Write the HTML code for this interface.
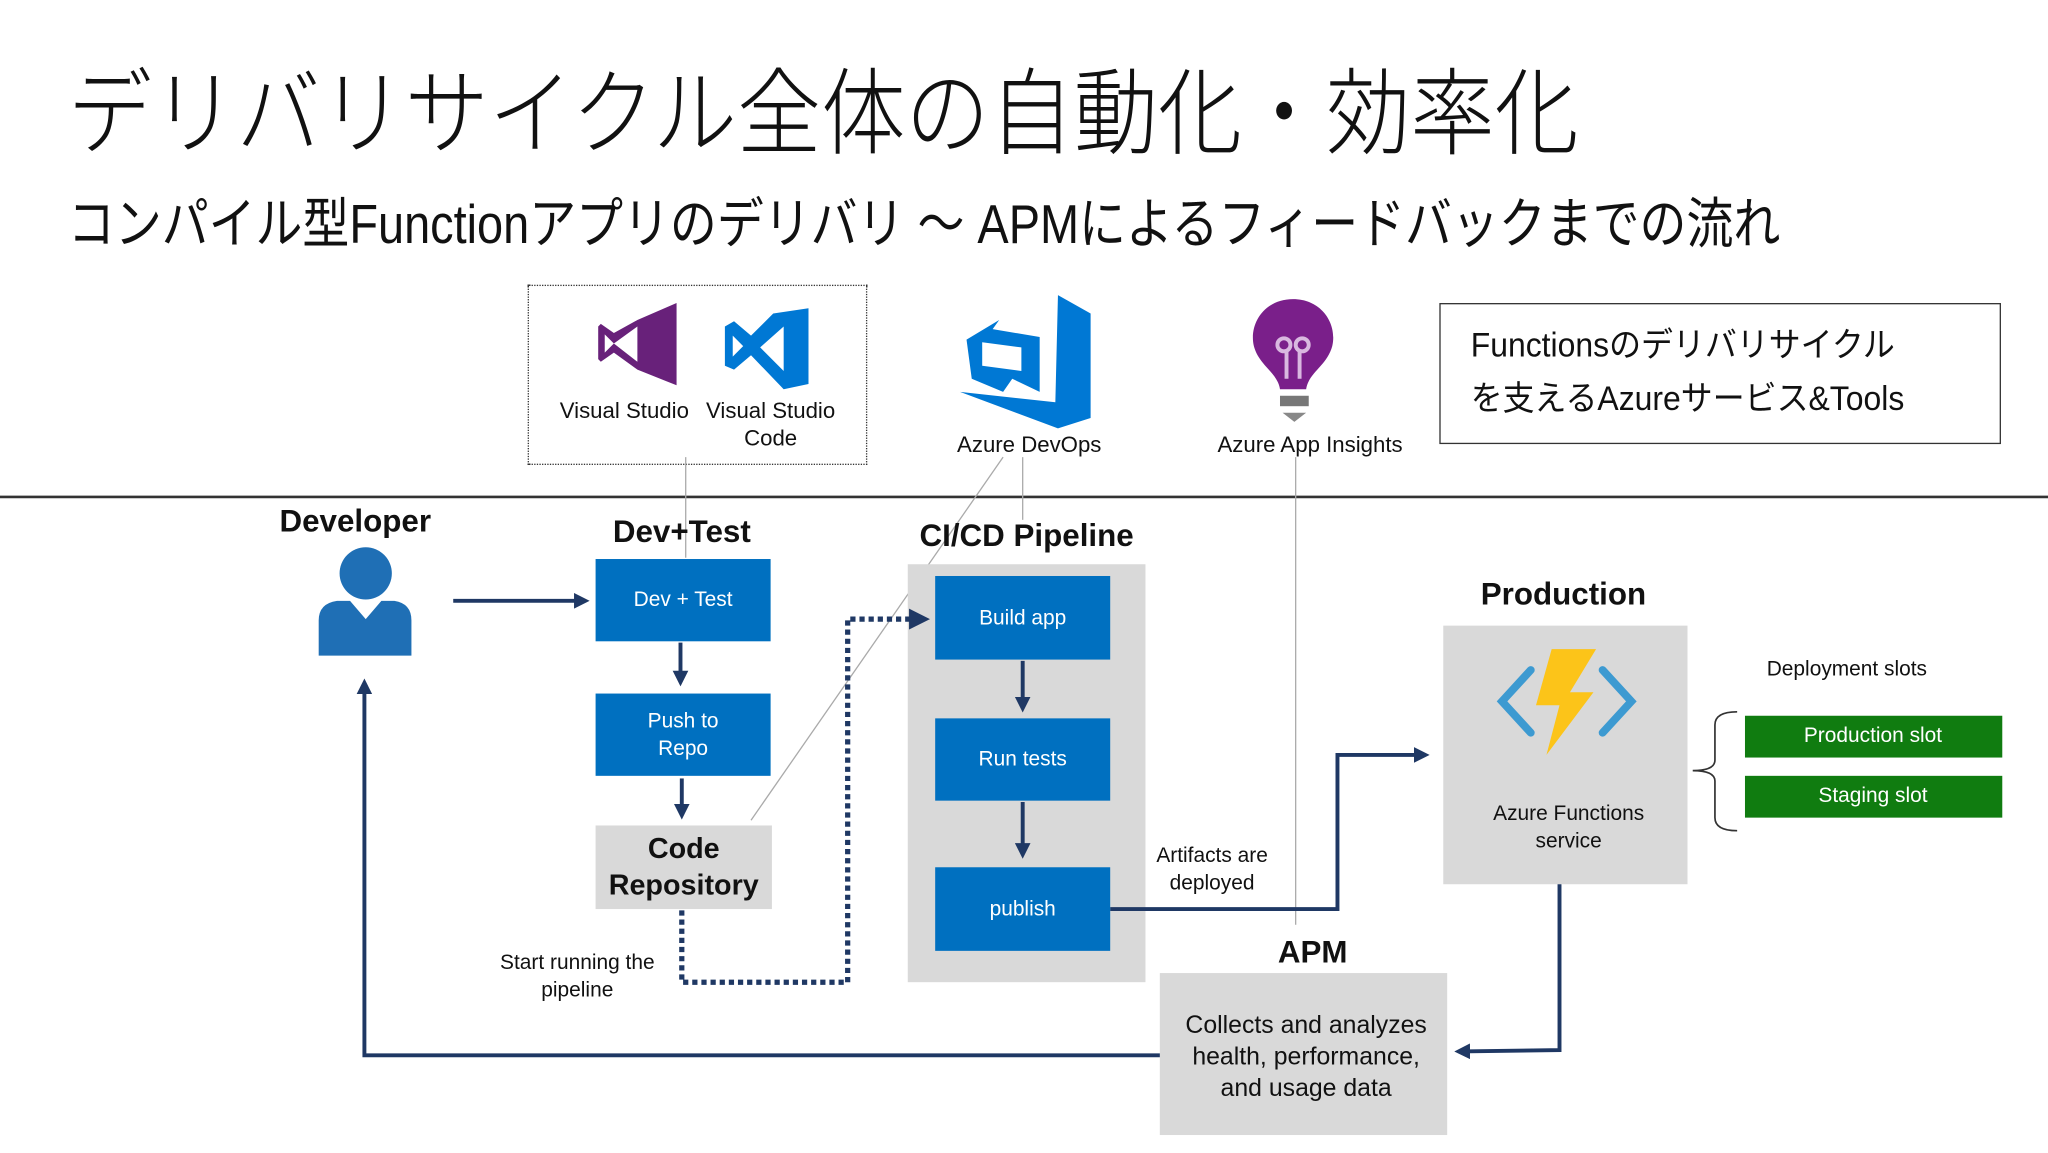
<!DOCTYPE html>
<html><head><meta charset="utf-8"><style>
html,body{margin:0;padding:0;background:#fff;overflow:hidden}
#w{width:1568px;height:883px;position:relative;transform:scale(1.30612);transform-origin:0 0;font-family:"Liberation Sans","Noto Sans CJK JP",sans-serif;color:#111}
.a{position:absolute}
.t{position:absolute;white-space:nowrap;text-align:center;transform:translateX(-50%)}
.b{position:absolute;background:#0070c0;color:#fff;font-size:16px;display:flex;align-items:center;justify-content:center;text-align:center;line-height:21px}
.h{font-weight:bold;font-size:24px}
.s{font-size:16px}
</style></head><body><div id="w">
<div class="a" style="left:52px;top:36px;font-size:72px;line-height:90px;font-family:'Noto Sans CJK JP',sans-serif;font-weight:300;white-space:nowrap;transform:scaleX(0.895);transform-origin:0 0">デリバリサイクル全体の自動化・効率化</div>
<div class="a" style="left:52px;top:142px;font-size:42px;line-height:60px;white-space:nowrap;transform:scaleX(0.855);transform-origin:0 0;font-family:'Liberation Sans','Noto Sans CJK JP',sans-serif">コンパイル型Functionアプリのデリバリ ～ APMによるフィードバックまでの流れ</div>

<div class="a" style="left:404px;top:218px;width:258px;height:136px;border:1px dotted #333"></div>
<div class="a" style="left:1102px;top:232px;width:430px;height:108px;border:1.5px solid #333;box-sizing:border-box"></div>
<div class="a" style="left:1126px;top:244px;font-size:26px;line-height:41px;white-space:nowrap;transform:scaleX(0.94);transform-origin:0 0;font-family:'Liberation Sans','Noto Sans CJK JP',sans-serif">Functionsのデリバリサイクル<br>を支えるAzureサービス&amp;Tools</div>

<svg class="a" style="left:0;top:0" width="1568" height="883">
<defs>
<marker id="ar" markerWidth="4" markerHeight="4" refX="2.5" refY="2" orient="auto" markerUnits="strokeWidth"><path d="M0,0L4,2L0,4z" fill="#1f3864"/></marker>
</defs>
<path d="M488,245 L518,232 L518,295 L488,283 L470,270 L460,277 L458,275 L458,250 L460,248 L470,255 Z" fill="#68217a"/>
<path d="M488,250 L488,277 L470,263 Z M463,256 L470,263 L463,270Z" fill="#fff"/>
<path d="M592,240 L619,236 L619,294 L600,298 L575,272 L562,283 L555,280 L555,250 L562,246 L575,257 Z" fill="#0078d4"/>
<path d="M600,250 L600,284 L582,266 Z M561,257 L569,265 L561,273Z" fill="#fff"/>
<path d="M810,226 L835,240 L835,320 L810,328 L735,300 L808,308 Z" fill="#0078d4"/>
<path d="M740,260 L765,245 L760,252 L796,258 L796,300 L775,290 L768,300 L744,290 Z" fill="#0078d4"/>
<path d="M752,262 L782,266 L782,284 L752,280Z" fill="#fff"/>
<path d="M990,229 C1012,229 1024,248 1020,265 C1016,280 1002,285 1000,298 L980,298 C978,285 964,280 960,265 C956,248 968,229 990,229Z" fill="#7a1f8a"/>
<rect x="980" y="303" width="22" height="8" fill="#777"/>
<path d="M982,316 L1000,316 L991,323Z" fill="#888"/>
<path d="M985,290 L985,268 M995,290 L995,268" stroke="#d9b8e0" stroke-width="3"/>
<circle cx="983" cy="264" r="5" fill="none" stroke="#d9b8e0" stroke-width="3"/><circle cx="997" cy="264" r="5" fill="none" stroke="#d9b8e0" stroke-width="3"/>
<line x1="0" y1="380.5" x2="1568" y2="380.5" stroke="#333" stroke-width="2"/>
<g stroke="#aaa" stroke-width="1" fill="none">
<line x1="525" y1="350" x2="525" y2="427"/>
<line x1="768" y1="350" x2="575" y2="628"/>
<line x1="783" y1="350" x2="783" y2="398"/>
<line x1="992" y1="350" x2="992" y2="708"/>
</g>
<circle cx="280" cy="439" r="20" fill="#1f6fb5"/>
<path d="M244,502 L244,475 Q244,462 258,460 L268,460 L280,474 L292,460 L302,460 Q315,462 315,475 L315,502 Z" fill="#1f6fb5"/>
<rect x="695" y="432" width="182" height="320" fill="#d9d9d9"/>
<rect x="1105" y="479" width="187" height="198" fill="#d9d9d9"/>
<rect x="888" y="745" width="220" height="124" fill="#d9d9d9"/>
<rect x="456" y="632" width="135" height="64" fill="#d9d9d9"/>
<g stroke="#1f3864" stroke-width="3" fill="none">
<line x1="347" y1="460" x2="447" y2="460" marker-end="url(#ar)"/>
<line x1="521" y1="492" x2="521" y2="521" marker-end="url(#ar)"/>
<line x1="522" y1="596" x2="522" y2="623" marker-end="url(#ar)"/>
<line x1="783" y1="506" x2="783" y2="541" marker-end="url(#ar)"/>
<line x1="783" y1="614" x2="783" y2="653" marker-end="url(#ar)"/>
<polyline points="850,696 1024,696 1024,578 1090,578" marker-end="url(#ar)"/>
<polyline points="1194,677 1194,804 1118,805" marker-end="url(#ar)"/>
<polyline points="888,808 279,808 279,524" marker-end="url(#ar)"/>
<polyline points="522,697 522,752 649,752 649,474 706,474" stroke-dasharray="4,3" stroke-width="4" marker-end="url(#ar)"/>
</g>
<path d="M1172,513 L1150,537 L1172,561 M1227,513 L1249,537 L1227,561" stroke="#3d9ad1" stroke-width="6" fill="none" stroke-linecap="round"/>
<path d="M1188,497 L1222,497 L1202,530 L1220,530 L1184,578 L1194,540 L1176,540 Z" fill="#fcc419"/>
<path d="M1330,545 Q1313,545 1313,555 L1313,582 Q1313,590 1296,590 Q1313,590 1313,598 L1313,626 Q1313,636 1330,636" stroke="#333" stroke-width="1.3" fill="none"/>
<rect x="1336" y="548" width="197" height="32" fill="#107c10"/>
<rect x="1336" y="594" width="197" height="32" fill="#107c10"/>
</svg>

<div class="t s" style="left:478px;top:305px;font-size:17px">Visual Studio</div>
<div class="t s" style="left:590px;top:304px;font-size:17px;line-height:21px">Visual Studio<br>Code</div>
<div class="t s" style="left:788px;top:331px;font-size:17px">Azure DevOps</div>
<div class="t s" style="left:1003px;top:331px;font-size:17px">Azure App Insights</div>

<div class="t h" style="left:272px;top:386px">Developer</div>
<div class="t h" style="left:522px;top:394px">Dev+Test</div>
<div class="t h" style="left:786px;top:397px">CI/CD Pipeline</div>
<div class="t h" style="left:1197px;top:442px">Production</div>
<div class="t h" style="left:1005px;top:716px">APM</div>

<div class="b" style="left:456px;top:428px;width:134px;height:63px">Dev + Test</div>
<div class="b" style="left:456px;top:531px;width:134px;height:63px">Push to<br>Repo</div>
<div class="a" style="left:456px;top:632px;width:135px;height:64px;display:flex;align-items:center;justify-content:center;text-align:center;font-weight:bold;font-size:22px;line-height:28px">Code<br>Repository</div>
<div class="b" style="left:716px;top:441px;width:134px;height:64px">Build app</div>
<div class="b" style="left:716px;top:550px;width:134px;height:63px">Run tests</div>
<div class="b" style="left:716px;top:664px;width:134px;height:64px">publish</div>

<div class="t s" style="left:442px;top:727px;line-height:21px">Start running the<br>pipeline</div>
<div class="t s" style="left:928px;top:645px;line-height:21px">Artifacts are<br>deployed</div>
<div class="t s" style="left:1201px;top:613px;line-height:21px">Azure Functions<br>service</div>
<div class="t s" style="left:1414px;top:504px">Deployment slots</div>
<div class="t s" style="left:1434px;top:555px;color:#fff">Production slot</div>
<div class="t s" style="left:1434px;top:601px;color:#fff">Staging slot</div>
<div class="t" style="left:1000px;top:774px;font-size:19px;line-height:24px">Collects and analyzes<br>health, performance,<br>and usage data</div>
</div></body></html>
